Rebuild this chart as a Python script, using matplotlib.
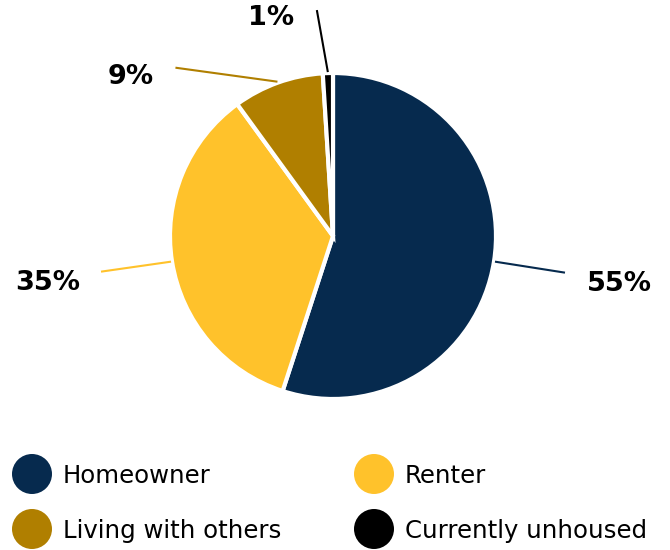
import numpy as np
import matplotlib
matplotlib.use("Agg")
import matplotlib.pyplot as plt
from matplotlib.patches import Circle

categories = ["Homeowner", "Renter", "Living with others", "Currently unhoused"]
values = [55, 35, 9, 1]
labels = ["55%", "35%", "9%", "1%"]
colors = ["#062a4e", "#ffc22b", "#b07f00", "#000000"]

W, H = 670, 550
fig = plt.figure(figsize=(W / 100, H / 100), dpi=100)
ax = fig.add_axes([0, 0, 1, 1])

cx, cy, R = 333, H - 236, 163
wedges, _ = ax.pie(values, colors=colors, startangle=90, counterclock=False,
                   center=(cx, cy), radius=R,
                   wedgeprops=dict(edgecolor="white", linewidth=3))
ax.set_xlim(0, W)
ax.set_ylim(0, H)
ax.set_aspect("equal")
ax.axis("off")

# leader line layout: (line end offset from wedge edge, text offset from line end), pixels
line_off = [(70, -11), (-70, -10), (-102, 14), (-11, 62)]
text_off = [(54, -11), (-53, -11), (-45, -9), (-46, -8)]

for w, lab, col, lo, to in zip(wedges, labels, colors, line_off, text_off):
    ang = np.deg2rad((w.theta1 + w.theta2) / 2)
    x0 = cx + (R + 1) * np.cos(ang)
    y0 = cy + (R + 1) * np.sin(ang)
    x1, y1 = x0 + lo[0], y0 + lo[1]
    ax.plot([x0, x1], [y0, y1], color=col, lw=1.5, solid_capstyle="butt")
    ax.text(x1 + to[0], y1 + to[1], lab, ha="center", va="center",
            fontsize=19.5, fontweight="bold", family="DejaVu Sans", color="black")

# legend
pos = [(32, 474), (374, 474), (32, 529), (374, 529)]
for (px, py), cat, col in zip(pos, categories, colors):
    ax.add_patch(Circle((px, H - py), 20, color=col, lw=0))
    ax.text(px + 31, H - py - 2, cat, ha="left", va="center", fontsize=17.6,
            family="DejaVu Sans", color="black")

fig.savefig("out.png", dpi=100)
